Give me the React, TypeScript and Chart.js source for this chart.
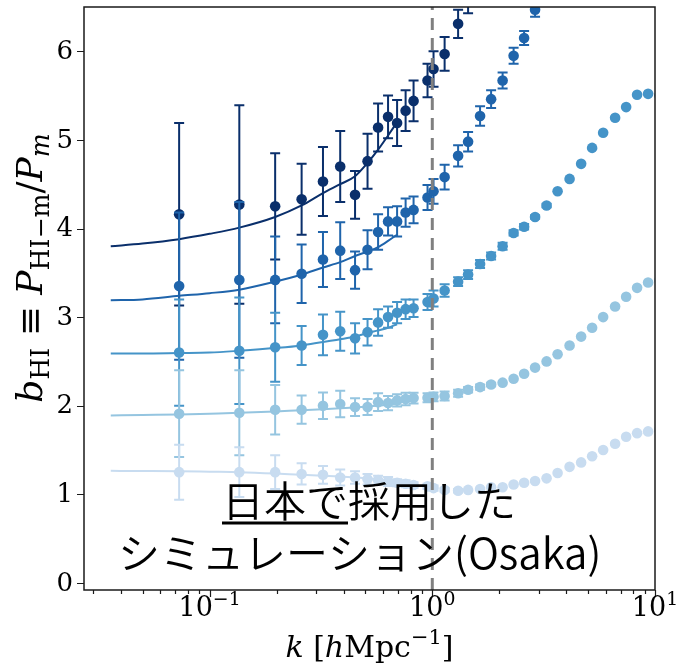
import React, { useEffect, useRef } from "react";
import { Chart, registerables } from "chart.js";

Chart.register(...registerables);

// ---------- data ----------
const K = [0.073, 0.136, 0.197, 0.259, 0.323, 0.386, 0.45, 0.512, 0.571, 0.633, 0.695, 0.759, 0.824, 0.952, 1.013, 1.136, 1.306, 1.448, 1.639, 1.837, 2.069, 2.318, 2.584, 2.894, 3.26, 3.653, 4.135, 4.66, 5.22, 5.85, 6.62, 7.42, 8.31, 9.31, 10.48];

const B1 = [4.16, 4.27, 4.25, 4.33, 4.53, 4.7, 4.38, 4.76, 5.14, 5.26, 5.19, 5.33, 5.44, 5.67, 5.8, 5.97, 6.31, 6.6];
const E1 = [1.03, 1.12, 0.6, 0.4, 0.39, 0.4, 0.27, 0.31, 0.27, 0.24, 0.26, 0.23, 0.23, 0.19, 0.2, 0.19, 0.16, 0.17];

const B2 = [3.35, 3.42, 3.42, 3.49, 3.65, 3.75, 3.53, 3.76, 3.96, 4.08, 4.08, 4.18, 4.21, 4.35, 4.42, 4.58, 4.82, 4.98, 5.27, 5.46, 5.67, 5.95, 6.15, 6.47];
const E2 = [0.83, 0.88, 0.49, 0.33, 0.31, 0.32, 0.21, 0.22, 0.2, 0.16, 0.17, 0.16, 0.15, 0.14, 0.14, 0.14, 0.12, 0.11, 0.11, 0.1, 0.09, 0.09, 0.08, 0.08];

const B3 = [2.6, 2.62, 2.66, 2.68, 2.8, 2.84, 2.76, 2.83, 2.94, 3.0, 3.05, 3.09, 3.1, 3.17, 3.21, 3.3, 3.4, 3.48, 3.6, 3.69, 3.8, 3.95, 4.02, 4.13, 4.26, 4.42, 4.56, 4.73, 4.91, 5.08, 5.25, 5.37, 5.51, 5.52, 5.5];
const E3 = [0.6, 0.6, 0.39, 0.22, 0.23, 0.22, 0.17, 0.15, 0.15, 0.12, 0.12, 0.11, 0.1, 0.09, 0.09, 0.07, 0.05, 0.05, 0.045, 0.04, 0.04, 0.03, 0.03, 0.02, 0.02, 0, 0, 0, 0, 0, 0, 0, 0, 0, 0];

const B4 = [1.91, 1.92, 1.955, 1.955, 2.0, 2.02, 1.985, 1.985, 2.04, 2.03, 2.06, 2.075, 2.086, 2.09, 2.1, 2.11, 2.14, 2.18, 2.21, 2.24, 2.26, 2.305, 2.36, 2.43, 2.5, 2.58, 2.68, 2.78, 2.88, 3.0, 3.12, 3.23, 3.33, 3.39, 3.42];
const E4 = [0.49, 0.48, 0.28, 0.16, 0.15, 0.15, 0.1, 0.09, 0.1, 0.08, 0.07, 0.07, 0.06, 0.05, 0.05, 0.05, 0.04, 0.03, 0.03, 0.02, 0, 0, 0, 0, 0, 0, 0, 0, 0, 0, 0, 0, 0, 0, 0];

const B5 = [1.25, 1.25, 1.25, 1.23, 1.22, 1.19, 1.19, 1.17, 1.16, 1.145, 1.13, 1.12, 1.105, 1.09, 1.07, 1.05, 1.04, 1.05, 1.06, 1.08, 1.08, 1.11, 1.13, 1.15, 1.18, 1.24, 1.31, 1.36, 1.43, 1.5, 1.57, 1.65, 1.69, 1.71, 1.73];
const E5 = [0.31, 0.28, 0.19, 0.12, 0.1, 0.09, 0.07, 0.06, 0.05, 0.05, 0.04, 0.04, 0.03, 0.03, 0.03, 0.02, 0.02, 0, 0, 0, 0, 0, 0, 0, 0, 0, 0, 0, 0, 0, 0, 0, 0, 0, 0];

// fitted curves
const FIT_K = [0.036, 0.05, 0.073, 0.1, 0.136, 0.197, 0.259, 0.323, 0.386, 0.45, 0.512, 0.571, 0.633, 0.695];
const F1 = [3.8, 3.83, 3.88, 3.94, 4.01, 4.13, 4.26, 4.4, 4.5, 4.59, 4.74, 4.89, 5.05, 5.2];
const F2 = [3.19, 3.2, 3.24, 3.27, 3.31, 3.4, 3.48, 3.56, 3.62, 3.69, 3.74, 3.79, 3.86, 3.93];
const F3 = [2.59, 2.59, 2.595, 2.6, 2.62, 2.65, 2.68, 2.72, 2.75, 2.78, 2.82, 2.85, 2.88, 2.92];
const F4 = [1.89, 1.895, 1.9, 1.91, 1.92, 1.935, 1.95, 1.96, 1.97, 1.98, 1.99, 2.0, 2.01, 2.02];
const F5 = [1.265, 1.263, 1.26, 1.255, 1.25, 1.235, 1.22, 1.21, 1.2, 1.19, 1.18, 1.17, 1.16, 1.15];

const COLORS = ["#0a2f6b", "#1f64ab", "#4594c8", "#95c5e0", "#c8dcf0"];

const X_TICKS = [0.03, 0.04, 0.05, 0.06, 0.07, 0.08, 0.09, 0.1, 0.2, 0.3, 0.4, 0.5, 0.6, 0.7, 0.8, 0.9, 1, 2, 3, 4, 5, 6, 7, 8, 9, 10];
const X_MAJOR = [0.1, 1, 10];
const X_MAJOR_EXP = ["\u22121", "0", "1"];
const Y_TICKS = [0, 1, 2, 3, 4, 5, 6];
const Y_LABELS = ["0", "1", "2", "3", "4", "5", "6"];

const TEXT_LINE1_UNDER = "日本で";
const TEXT_LINE1_REST = "採用した";
const TEXT_LINE2 = "シミュレーション(Osaka)";

const SERIES = [
  { b: B1, e: E1, f: F1 },
  { b: B2, e: E2, f: F2 },
  { b: B3, e: E3, f: F3 },
  { b: B4, e: E4, f: F4 },
  { b: B5, e: E5, f: F5 },
];

type Seg = { t: string; font: string; dy?: number };

function drawRich(ctx: CanvasRenderingContext2D, segs: Seg[], x: number, y: number) {
  const widths = segs.map((s) => {
    ctx.font = s.font;
    return ctx.measureText(s.t).width;
  });
  const total = widths.reduce((a, b) => a + b, 0);
  let cx = x - total / 2;
  segs.forEach((s, i) => {
    ctx.font = s.font;
    ctx.fillText(s.t, cx, y + (s.dy || 0));
    cx += widths[i];
  });
}

const errorBarPlugin = {
  id: "errorBars",
  beforeDatasetDraw(chart: any, args: any) {
    const ds = chart.data.datasets[args.index];
    if (!ds.errors) return;
    const meta = chart.getDatasetMeta(args.index);
    const yScale = chart.scales.y;
    const ctx = chart.ctx;
    const area = chart.chartArea;
    ctx.save();
    ctx.beginPath();
    ctx.rect(area.left, area.top, area.right - area.left, area.bottom - area.top);
    ctx.clip();
    ctx.strokeStyle = ds.pointBackgroundColor;
    ctx.lineWidth = 2;
    meta.data.forEach((pt: any, i: number) => {
      const err = ds.errors[i];
      if (!err) return;
      const v = ds.data[i].y;
      const y1 = yScale.getPixelForValue(v + err);
      const y2 = yScale.getPixelForValue(v - err);
      const x = pt.x;
      ctx.beginPath();
      ctx.moveTo(x, y1);
      ctx.lineTo(x, y2);
      ctx.moveTo(x - 5, y1);
      ctx.lineTo(x + 5, y1);
      ctx.moveTo(x - 5, y2);
      ctx.lineTo(x + 5, y2);
      ctx.stroke();
    });
    ctx.restore();
  },
};

const decorPlugin = {
  id: "decor",
  afterDraw(chart: any) {
    const ctx = chart.ctx as CanvasRenderingContext2D;
    const a = chart.chartArea;
    const xs = chart.scales.x;
    const ys = chart.scales.y;
    ctx.save();
    // frame
    ctx.strokeStyle = "#1a1a1a";
    ctx.lineWidth = 1.5;
    ctx.strokeRect(a.left, a.top, a.right - a.left, a.bottom - a.top);
    // ticks
    ctx.lineWidth = 1.2;
    ctx.beginPath();
    X_TICKS.forEach((v) => {
      const px = Math.round(xs.getPixelForValue(v)) + 0.5;
      const len = X_MAJOR.includes(v) ? 7 : 4;
      ctx.moveTo(px, a.bottom);
      ctx.lineTo(px, a.bottom + len);
    });
    Y_TICKS.forEach((v) => {
      const py = Math.round(ys.getPixelForValue(v)) + 0.5;
      ctx.moveTo(a.left, py);
      ctx.lineTo(a.left - 7, py);
    });
    ctx.stroke();

    ctx.fillStyle = "#000";
    const rm = (s: number) => `${s}px "DejaVu Serif"`;
    const it = (s: number) => `italic ${s}px "DejaVu Serif"`;

    // y tick labels
    ctx.textAlign = "right";
    ctx.textBaseline = "middle";
    ctx.font = rm(26);
    Y_TICKS.forEach((v, i) => {
      ctx.fillText(Y_LABELS[i], 73, ys.getPixelForValue(v) + 1);
    });

    ctx.textAlign = "left";
    ctx.textBaseline = "alphabetic";
    // x tick labels
    const F = 27;
    X_MAJOR.forEach((v, i) => {
      const px = xs.getPixelForValue(v);
      drawRich(ctx, [
        { t: "10", font: rm(F) },
        { t: X_MAJOR_EXP[i], font: rm(F * 0.7), dy: -F * 0.42 },
      ], px, 616);
    });
    // x label
    const LF = 30;
    drawRich(ctx, [
      { t: "k", font: it(LF) },
      { t: " [", font: rm(LF) },
      { t: "h", font: it(LF) },
      { t: "Mpc", font: rm(LF) },
      { t: "\u22121", font: rm(LF * 0.7), dy: -LF * 0.42 },
      { t: "]", font: rm(LF) },
    ], (a.left + a.right) / 2, 657);
    // y label
    const YF = 36;
    ctx.save();
    ctx.translate(42, 268);
    ctx.rotate(-Math.PI / 2);
    drawRich(ctx, [
      { t: "b", font: it(YF) },
      { t: "HI", font: rm(YF * 0.7), dy: YF * 0.2 },
      { t: " \u2261 ", font: rm(YF) },
      { t: "P", font: it(YF) },
      { t: "HI\u2212m", font: rm(YF * 0.7), dy: YF * 0.2 },
      { t: "/", font: rm(YF) },
      { t: "P", font: it(YF) },
      { t: "m", font: it(YF * 0.7), dy: YF * 0.2 },
    ], 0, 0);
    ctx.restore();

    // overlay text
    const JF = 42;
    ctx.font = `350 ${JF}px "Noto Sans CJK JP"`;
    ctx.textBaseline = "middle";
    ctx.textAlign = "left";
    const x1 = 222;
    ctx.fillText(TEXT_LINE1_UNDER, x1, 501);
    const wU = ctx.measureText(TEXT_LINE1_UNDER).width;
    ctx.fillText(TEXT_LINE1_REST, x1 + wU, 501);
    ctx.fillRect(x1, 521.5, wU, 3);
    ctx.fillText(TEXT_LINE2, 118, 553);
    ctx.restore();
  },
};

export default function App() {
  const ref = useRef<HTMLCanvasElement | null>(null);
  useEffect(() => {
    if (!ref.current) return;
    const datasets: any[] = [];
    datasets.push({
      data: [{ x: 1, y: -0.08 }, { x: 1, y: 6.5 }],
      showLine: true,
      borderColor: "#808080",
      borderWidth: 3,
      borderDash: [12, 8],
      pointRadius: 0,
      clip: 0,
    });
    for (let s = SERIES.length - 1; s >= 0; s--) {
      const sr = SERIES[s];
      datasets.push({
        data: sr.b.map((v, i) => ({ x: K[i], y: v })),
        errors: sr.e,
        showLine: false,
        pointRadius: 5.3,
        pointBackgroundColor: COLORS[s],
        pointBorderWidth: 0,
        borderColor: COLORS[s],
        clip: 0,
      });
      datasets.push({
        data: sr.f.map((v, i) => ({ x: FIT_K[i], y: v })),
        showLine: true,
        borderColor: COLORS[s],
        borderWidth: 2,
        pointRadius: 0,
        cubicInterpolationMode: "monotone",
        clip: 0,
      });
    }
    const chart = new Chart(ref.current, {
      type: "scatter",
      data: { datasets },
      plugins: [errorBarPlugin, decorPlugin],
      options: {
        animation: false,
        responsive: false,
        events: [],
        layout: { padding: { left: 0, right: 24, top: 7, bottom: 0 } },
        plugins: { legend: { display: false }, tooltip: { enabled: false } },
        scales: {
          x: {
            type: "logarithmic",
            min: 0.0273,
            max: 10,
            grid: { display: false, drawTicks: false },
            border: { display: false },
            ticks: { display: false },
            afterBuildTicks: (s: any) => {
              s.ticks = X_TICKS.map((v) => ({ value: v }));
            },
            afterFit: (s: any) => {
              s.height = 78;
            },
          },
          y: {
            type: "linear",
            min: -0.08,
            max: 6.5,
            grid: { display: false, drawTicks: false },
            border: { display: false },
            ticks: { display: false },
            afterBuildTicks: (s: any) => {
              s.ticks = Y_TICKS.map((v) => ({ value: v }));
            },
            afterFit: (s: any) => {
              s.width = 84;
            },
          },
        },
      } as any,
    });
    return () => chart.destroy();
  }, []);
  return (
    <div style={{ position: "absolute", left: 0, top: 0, width: 679, height: 668, background: "#fff" }}>
      <canvas ref={ref} width={679} height={668} />
    </div>
  );
}
